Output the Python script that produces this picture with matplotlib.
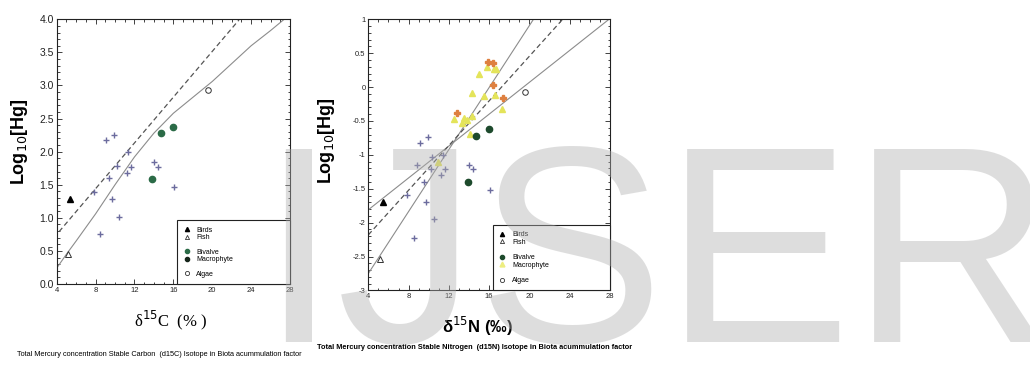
import numpy as np
import matplotlib.pyplot as plt
from matplotlib.lines import Line2D
from matplotlib.ticker import MultipleLocator

plt.rcParams['font.family'] = ['Liberation Sans Narrow', 'Liberation Sans', 'DejaVu Sans']

# ~~~~~~ Carbon panel data ~~~~~~~~~~~~~~~~~~~~~~~~~~~~~~~~~~~~~~~~~~~~~~~~~~~~
c_birds_x = [5.37]
c_birds_y = [1.29]
c_fish_x = [5.17]
c_fish_y = [0.45]
c_cross_x = [9.04, 9.9, 11.37, 10.24, 11.6, 11.2, 9.4, 14.0, 14.4, 16.07, 7.84, 9.66, 10.4, 8.46]
c_cross_y = [2.18, 2.25, 2.0, 1.78, 1.77, 1.68, 1.6, 1.84, 1.77, 1.47, 1.39, 1.28, 1.02, 0.75]
c_bivalve_x = [14.7, 16.0, 13.85]
c_bivalve_y = [2.28, 2.38, 1.58]
c_algae_x = [19.6]
c_algae_y = [2.93]
c_dash_x = [4.24, 22.75]
c_dash_y = [0.79, 3.99]
c_curve_x = [4, 5, 6, 8, 10, 12, 14, 16, 18, 20, 22, 24, 26, 27.4]
c_curve_y = [0.24, 0.45, 0.65, 1.06, 1.5, 1.92, 2.28, 2.58, 2.82, 3.06, 3.33, 3.6, 3.83, 4.0]

# ~~~~~~ Nitrogen panel data ~~~~~~~~~~~~~~~~~~~~~~~~~~~~~~~~~~~~~~~~~~~~~~~~~~
n_birds_x = [5.45]
n_birds_y = [-1.70]
n_fish_x = [5.2]
n_fish_y = [-2.53]
n_cross_x = [9.17, 9.96, 10.3, 11.4, 8.85, 10.22, 11.6, 11.2, 9.5, 7.86, 9.73, 10.48, 8.5, 14.0, 14.42, 16.07]
n_cross_y = [-0.82, -0.74, -1.03, -1.0, -1.15, -1.21, -1.21, -1.30, -1.40, -1.59, -1.70, -1.95, -2.22, -1.15, -1.21, -1.52]
n_orange_x = [15.84, 16.4, 16.43, 17.42, 12.85]
n_orange_y = [0.366, 0.36, 0.035, -0.16, -0.38]
n_yellow_x = [15.8, 16.5, 16.7, 15.0, 14.27, 15.48, 16.56, 17.28, 12.52, 13.5, 13.28, 13.8, 14.27, 14.1, 10.9]
n_yellow_y = [0.29, 0.27, 0.26, 0.19, -0.08, -0.13, -0.11, -0.32, -0.47, -0.45, -0.53, -0.48, -0.43, -0.69, -1.10]
n_bivalve_x = [14.72, 16.0, 13.87]
n_bivalve_y = [-0.72, -0.62, -1.40]
n_algae_x = [19.6]
n_algae_y = [-0.07]
n_shallow_x = [4, 27.9]
n_shallow_y = [-1.81, 1.0]
n_dash_x = [4, 23.3]
n_dash_y = [-2.18, 1.0]
n_steep_x = [4, 20.4]
n_steep_y = [-2.75, 1.0]

x_ticks = [4, 8, 12, 16, 20, 24, 28]
c_yticks = [0.0, 0.5, 1.0, 1.5, 2.0, 2.5, 3.0, 3.5, 4.0]
c_ylabels = ['0.0', '0.5', '1.0', '1.5', '2.0', '2.5', '3.0', '3.5', '4.0']
n_yticks = [-3, -2.5, -2, -1.5, -1, -0.5, 0, 0.5, 1]
n_ylabels = ['-3', '-2.5', '-2', '-1.5', '-1', '-0.5', '0', '0.5', '1']

cross_col = '#6c6c9e'
line_col = '#8c8c8c'


def style_axes(ax, yticks, ylabels, ysize):
    ax.set_xlim(4, 28)
    ax.set_xticks(x_ticks)
    ax.set_xticklabels([str(t) for t in x_ticks], fontsize=5.5)
    ax.set_yticks(yticks)
    ax.set_yticklabels(ylabels, fontsize=ysize)
    ax.xaxis.set_minor_locator(MultipleLocator(1))
    ax.yaxis.set_minor_locator(MultipleLocator(0.1))
    ax.tick_params(which='both', direction='in', top=True, right=True, width=0.6, colors='#222222')
    ax.tick_params(which='major', length=3.5, pad=2)
    ax.tick_params(which='minor', length=1.8)
    for s in ax.spines.values():
        s.set_linewidth(0.8)
        s.set_color('#222222')


fig = plt.figure(figsize=(10.3, 3.67), dpi=100)

# ~~~~~~ Left: carbon ~~~~~~~~~~~~~~~~~~~~~~~~~~~~~~~~~~~~~~~~~~~~~~~~~~~~~~~~
ax1 = fig.add_axes([0.05505, 0.22616, 0.2265, 0.72125])
ax1.plot(c_curve_x, c_curve_y, color=line_col, lw=0.8)
ax1.plot(c_dash_x, c_dash_y, color='#555555', lw=0.9, dashes=(4, 2.5))
ax1.plot(c_cross_x, c_cross_y, '+', color=cross_col, ms=5, mew=1)
ax1.plot(c_birds_x, c_birds_y, '^', color='black', ms=4)
ax1.plot(c_fish_x, c_fish_y, '^', mfc='white', mec='#333333', ms=4, mew=0.7)
ax1.plot(c_bivalve_x, c_bivalve_y, 'o', color='#2b6b47', ms=4.5)
ax1.plot(c_algae_x, c_algae_y, 'o', mfc='white', mec='#333333', ms=4, mew=0.7)
ax1.set_ylim(0, 4)
style_axes(ax1, c_yticks, c_ylabels, 7.5)
ax1.set_ylabel('Log$_{10}$[Hg]', fontsize=13, fontweight='bold', family=['Liberation Sans', 'DejaVu Sans'])
ax1.yaxis.set_label_coords(-0.113, 0.536)
ax1.set_xlabel('δ$^{15}$C  (% )', fontsize=12, family=['Liberation Serif', 'DejaVu Serif'])
ax1.xaxis.set_label_coords(0.486, -0.095)

blank = Line2D([], [], linestyle='none')
h1 = [Line2D([], [], ls='none', marker='^', color='black', ms=3),
      Line2D([], [], ls='none', marker='^', mfc='white', mec='#333333', ms=3, mew=0.6),
      blank,
      Line2D([], [], ls='none', marker='o', color='#2b6b47', ms=3),
      Line2D([], [], ls='none', marker='o', color='#15251a', ms=3),
      blank,
      Line2D([], [], ls='none', marker='o', mfc='white', mec='#333333', ms=3, mew=0.6)]
labels = ['Birds', 'Fish', ' ', 'Bivalve', 'Macrophyte', ' ', 'Algae']
leg1 = ax1.legend(h1, labels, loc='lower left', bbox_to_anchor=(0.515, 0, 0.485, 0.2575),
                  mode='expand', borderaxespad=0, fontsize=5, labelspacing=0.05,
                  handlelength=1.0, handletextpad=0.9, borderpad=0.9, fancybox=False,
                  framealpha=1, edgecolor='#222222')
leg1.get_frame().set_linewidth(0.8)

# ~~~~~~ Right: nitrogen ~~~~~~~~~~~~~~~~~~~~~~~~~~~~~~~~~~~~~~~~~~~~~~~~~~~~~
ax2 = fig.add_axes([0.35757, 0.20845, 0.23466, 0.73896])
ax2.plot(n_shallow_x, n_shallow_y, color=line_col, lw=0.8)
ax2.plot(n_steep_x, n_steep_y, color=line_col, lw=0.8)
ax2.plot(n_dash_x, n_dash_y, color='#555555', lw=0.9, dashes=(4, 2.5))
ax2.plot(n_cross_x, n_cross_y, '+', color=cross_col, ms=5, mew=1)
ax2.plot(n_yellow_x, n_yellow_y, '^', color='#e4e45a', ms=5)
ax2.plot(n_orange_x, n_orange_y, 'P', color='#de8040', ms=4.5)
ax2.plot(n_birds_x, n_birds_y, '^', color='black', ms=4)
ax2.plot(n_fish_x, n_fish_y, '^', mfc='white', mec='#333333', ms=4, mew=0.7)
ax2.plot(n_bivalve_x, n_bivalve_y, 'o', color='#1d4a2c', ms=4.5)
ax2.plot(n_algae_x, n_algae_y, 'o', mfc='white', mec='#333333', ms=4, mew=0.7)
ax2.set_ylim(-3, 1)
style_axes(ax2, n_yticks, n_ylabels, 5.5)
ax2.set_ylabel('Log$_{10}$[Hg]', fontsize=13, fontweight='bold', family=['Liberation Sans', 'DejaVu Sans'])
ax2.yaxis.set_label_coords(-0.13, 0.551)
ax2.set_xlabel('δ$^{15}$N (‰)', fontsize=12, fontweight='bold', family=['Liberation Sans', 'DejaVu Sans'])
ax2.xaxis.set_label_coords(0.454, -0.09)

h2 = [Line2D([], [], ls='none', marker='^', color='black', ms=3),
      Line2D([], [], ls='none', marker='^', mfc='white', mec='#333333', ms=3, mew=0.6),
      blank,
      Line2D([], [], ls='none', marker='o', color='#1d4a2c', ms=3),
      Line2D([], [], ls='none', marker='^', color='#eded80', ms=3.5),
      blank,
      Line2D([], [], ls='none', marker='o', mfc='white', mec='#333333', ms=3, mew=0.6)]
leg2 = ax2.legend(h2, labels, loc='lower left', bbox_to_anchor=(0.514, 0, 0.486, 0.266),
                  mode='expand', borderaxespad=0, fontsize=5, labelspacing=0.1,
                  handlelength=1.0, handletextpad=0.9, borderpad=0.9, fancybox=False,
                  framealpha=1, edgecolor='#222222')
leg2.get_frame().set_linewidth(0.8)

# ~~~~~~ Captions ~~~~~~~~~~~~~~~~~~~~~~~~~~~~~~~~~~~~~~~~~~~~~~~~~~~~~~~~~~~~
fig.text(0.1544, 0.0327, 'Total Mercury concentration Stable Carbon  (d15C) Isotope in Biota acummulation factor',
         ha='center', va='center', fontsize=5.3)
fig.text(0.461, 0.0518, 'Total Mercury concentration Stable Nitrogen  (d15N) Isotope in Biota acummulation factor',
         ha='center', va='center', fontsize=5.35, fontweight='bold')

# watermark
fig.text(0.2515, 0.068, 'IJSER', fontsize=202, color='#b0b0b0', alpha=0.42,
         ha='left', va='baseline', family=['Liberation Sans', 'DejaVu Sans'], zorder=10)

fig.savefig('out.png', dpi=100)
